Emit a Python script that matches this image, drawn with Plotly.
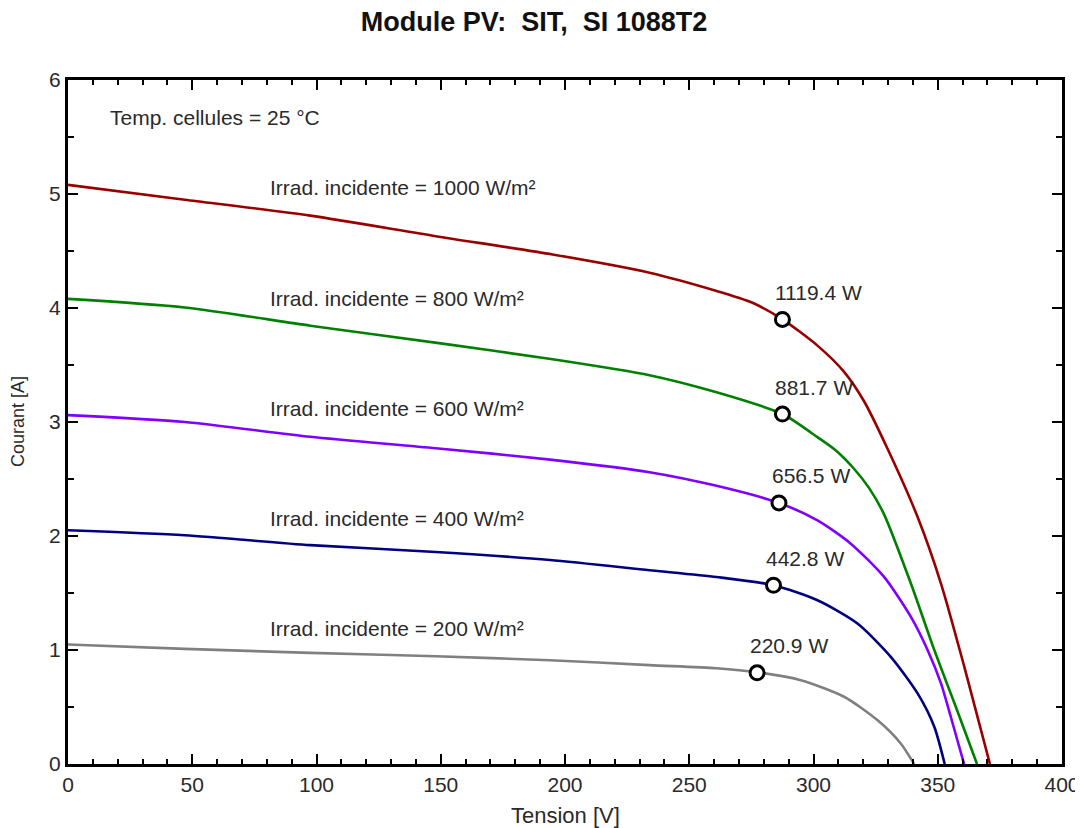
import plotly.graph_objects as go

# ---------------- data ----------------
v_1000 = [0, 47, 97.5, 148, 195, 234, 261, 275, 287.5, 301.6, 312.3, 320.4, 329.8, 341.9, 351.3, 360.7, 371]
i_1000 = [5.08, 4.95, 4.81, 4.63, 4.47, 4.31, 4.15, 4.05, 3.90, 3.67, 3.44, 3.18, 2.765, 2.166, 1.583, 0.852, 0]

v_800 = [0, 47, 97.5, 150, 195, 234, 261, 287.5, 301.6, 309, 316.3, 322.4, 328.4, 339.2, 348.6, 357.3, 365.8]
i_800 = [4.08, 4.005, 3.845, 3.69, 3.55, 3.41, 3.26, 3.07, 2.867, 2.75, 2.59, 2.42, 2.19, 1.583, 1.0, 0.50, 0]

v_600 = [0, 47, 97.5, 148, 194, 234, 261, 286.1, 301.6, 315, 328.4, 339.2, 345.9, 351.3, 355.3, 360.6]
i_600 = [3.06, 3.0, 2.87, 2.77, 2.67, 2.56, 2.44, 2.29, 2.137, 1.933, 1.641, 1.29, 1.0, 0.707, 0.41, 0]

v_400 = [0, 47, 97.5, 148, 194, 234, 261, 283.9, 301.6, 317.7, 331.1, 341.9, 348.6, 352.8]
i_400 = [2.05, 2.006, 1.92, 1.86, 1.79, 1.70, 1.64, 1.568, 1.436, 1.232, 0.94, 0.619, 0.327, 0]

v_200 = [0, 47, 97.5, 148, 194, 234, 261, 277.3, 294.9, 312.3, 325.7, 335.1, 340.5]
i_200 = [1.048, 1.01, 0.975, 0.945, 0.91, 0.867, 0.84, 0.805, 0.735, 0.59, 0.385, 0.18, 0]

irradiances = [1000, 800, 600, 400, 200]
colors = ["#980000", "#008000", "#8000ff", "#000080", "#808080"]
curves_v = [v_1000, v_800, v_600, v_400, v_200]
curves_i = [i_1000, i_800, i_600, i_400, i_200]

mpp_v = [287.5, 287.5, 286.1, 283.9, 277.3]
mpp_i = [3.90, 3.07, 2.29, 1.568, 0.80]
mpp_labels = ["1119.4 W", "881.7 W", "656.5 W", "442.8 W", "220.9 W"]

irr_label_v = 80.6
irr_label_i = [5.06, 4.08, 3.12, 2.15, 1.19]
irr_labels = ["Irrad. incidente = %d W/m²" % g for g in irradiances]

temp_label = "Temp. cellules = 25 °C"
title_text = "Module PV:  SIT,  SI 1088T2"
x_title = "Tension [V]"
y_title = "Courant [A]"

FONT = "Liberation Sans, Arial, sans-serif"
TXT = "#2a2a2a"

# page body has an 8px margin: figure sized to fill the 1083x828 window from (8, 8)
FIG_W, FIG_H = 1075, 820

# ---------------- figure ----------------
fig = go.Figure()

for v, i, c in zip(curves_v, curves_i, colors):
    fig.add_trace(go.Scatter(
        x=v, y=i, mode="lines",
        line=dict(color=c, width=2.6, shape="spline", smoothing=0.7),
        hoverinfo="x+y", showlegend=False,
    ))

fig.add_trace(go.Scatter(
    x=mpp_v, y=mpp_i, mode="markers",
    marker=dict(symbol="circle", size=14, color="white",
                line=dict(color="black", width=3)),
    showlegend=False,
))

for v, i, t in zip(mpp_v, mpp_i, mpp_labels):
    fig.add_annotation(x=v, y=i, text=t, showarrow=False,
                       xanchor="left", yanchor="middle",
                       xshift=-9, yshift=27,
                       font=dict(family=FONT, size=21, color=TXT))

for y, t in zip(irr_label_i, irr_labels):
    fig.add_annotation(x=irr_label_v, y=y, text=t, showarrow=False,
                       xanchor="left", yanchor="middle",
                       font=dict(family=FONT, size=21, color=TXT))

fig.add_annotation(x=16.1, y=5.67, text=temp_label, showarrow=False,
                   xanchor="left", yanchor="middle",
                   font=dict(family=FONT, size=21, color=TXT))

# axis titles placed relative to the plot area
fig.add_annotation(x=0.5, y=0, xref="paper", yref="paper", text=x_title,
                   showarrow=False, xanchor="center", yanchor="middle",
                   yshift=-51, font=dict(family=FONT, size=22, color=TXT))
fig.add_annotation(x=0, y=0.5, xref="paper", yref="paper", text=y_title,
                   showarrow=False, xanchor="center", yanchor="middle",
                   xshift=-50, textangle=-90,
                   font=dict(family=FONT, size=18, color=TXT))

axis_common = dict(
    showline=True, linecolor="black", linewidth=3, mirror="allticks",
    ticks="inside", tickcolor="black", tickwidth=2, ticklen=10,
    showgrid=False, zeroline=False, automargin=False,
    tickfont=dict(family=FONT, size=21, color=TXT),
)

fig.update_xaxes(
    range=[0, 400], tickmode="linear", tick0=0, dtick=50,
    minor=dict(ticks="inside", dtick=10, ticklen=5, tickwidth=2, tickcolor="black", showgrid=False),
    **axis_common,
)
fig.update_yaxes(
    range=[0, 6], tickmode="linear", tick0=0, dtick=1,
    minor=dict(ticks="inside", dtick=0.5, ticklen=6, tickwidth=2, tickcolor="black", showgrid=False),
    **axis_common,
)

fig.update_layout(
    width=FIG_W, height=FIG_H,
    margin=dict(l=60, r=21, t=72, b=64, autoexpand=False),
    paper_bgcolor="white", plot_bgcolor="white",
    title=dict(text="<b>" + title_text + "</b>", x=526 / FIG_W, xanchor="center",
               xref="container", y=1, yanchor="top", yref="container",
               pad=dict(t=4, b=0, l=0, r=0),
               font=dict(family=FONT, size=27, color="#111111")),
    showlegend=False,
)

fig.write_html("out.html")
